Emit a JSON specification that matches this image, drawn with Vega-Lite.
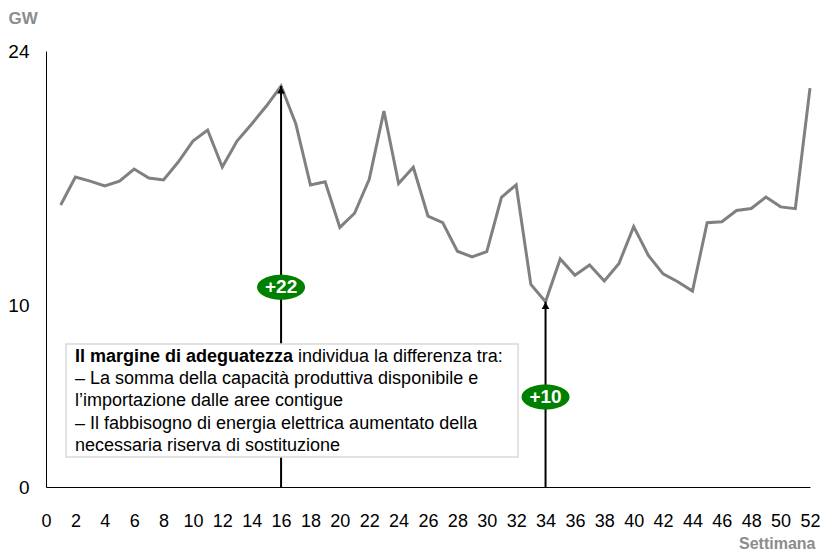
{
  "$schema": "https://vega.github.io/schema/vega-lite/v6.json",
  "width": 764,
  "height": 436,
  "autosize": {"type": "none"},
  "padding": {"left": 46, "top": 51, "right": 13, "bottom": 65},
  "background": "white",
  "config": {
    "view": {"stroke": null},
    "font": "Liberation Sans",
    "axis": {"labelOverlap": false, "labelFlush": false, "labelBound": false}
  },
  "datasets": {
    "series": [
      {"week": 1, "gw": 15.52}, {"week": 2, "gw": 17.06}, {"week": 3, "gw": 16.84}, {"week": 4, "gw": 16.57},
      {"week": 5, "gw": 16.84}, {"week": 6, "gw": 17.50}, {"week": 7, "gw": 17.01}, {"week": 8, "gw": 16.90},
      {"week": 9, "gw": 17.89}, {"week": 10, "gw": 19.04}, {"week": 11, "gw": 19.65}, {"week": 12, "gw": 17.61},
      {"week": 13, "gw": 19.04}, {"week": 14, "gw": 19.98}, {"week": 15, "gw": 20.97}, {"week": 16, "gw": 22.07},
      {"week": 17, "gw": 20.0}, {"week": 18, "gw": 16.62}, {"week": 19, "gw": 16.80}, {"week": 20, "gw": 14.29},
      {"week": 21, "gw": 15.07}, {"week": 22, "gw": 16.94}, {"week": 23, "gw": 20.70}, {"week": 24, "gw": 16.71},
      {"week": 25, "gw": 17.60}, {"week": 26, "gw": 14.91}, {"week": 27, "gw": 14.55}, {"week": 28, "gw": 12.98},
      {"week": 29, "gw": 12.66}, {"week": 30, "gw": 12.96}, {"week": 31, "gw": 15.95}, {"week": 32, "gw": 16.63},
      {"week": 33, "gw": 11.15}, {"week": 34, "gw": 10.20}, {"week": 35, "gw": 12.55}, {"week": 36, "gw": 11.66},
      {"week": 37, "gw": 12.22}, {"week": 38, "gw": 11.34}, {"week": 39, "gw": 12.31}, {"week": 40, "gw": 14.33},
      {"week": 41, "gw": 12.75}, {"week": 42, "gw": 11.73}, {"week": 43, "gw": 11.30}, {"week": 44, "gw": 10.79},
      {"week": 45, "gw": 14.55}, {"week": 46, "gw": 14.60}, {"week": 47, "gw": 15.22}, {"week": 48, "gw": 15.33},
      {"week": 49, "gw": 15.96}, {"week": 50, "gw": 15.42}, {"week": 51, "gw": 15.32}, {"week": 52, "gw": 21.96}
    ],
    "arrows": [
      {"week": 16, "from": 0, "to": 22.07, "label": "+22", "badge": 11.0},
      {"week": 34, "from": 0, "to": 10.20, "label": "+10", "badge": 4.95}
    ],
    "box": [{"x1": 1.36, "x2": 32.13, "y1": 1.65, "y2": 7.87}],
    "boldText": [{"x": 1.97, "y": 7.16, "t": "Il margine di adeguatezza"}],
    "plainText": [
      {"x": 17.15, "y": 7.16, "t": "individua la differenza tra:"},
      {"x": 1.97, "y": 5.93, "t": "– La somma della capacità produttiva disponibile e"},
      {"x": 1.97, "y": 4.71, "t": "l’importazione dalle aree contigue"},
      {"x": 1.97, "y": 3.48, "t": "– Il fabbisogno di energia elettrica aumentato della"},
      {"x": 1.97, "y": 2.26, "t": "necessaria riserva di sostituzione"}
    ]
  },
  "layer": [
    {
      "data": {"name": "series"},
      "mark": {"type": "line", "color": "#808080", "strokeWidth": 3},
      "encoding": {
        "x": {
          "field": "week", "type": "quantitative",
          "scale": {"domain": [0, 52], "nice": false, "zero": false},
          "axis": {
            "values": [0, 2, 4, 6, 8, 10, 12, 14, 16, 18, 20, 22, 24, 26, 28, 30, 32, 34, 36, 38, 40, 42, 44, 46, 48, 50, 52],
            "tickCount": 60,
            "grid": false, "ticks": false, "labelFontSize": 18, "labelColor": "#000000",
            "labelPadding": 25, "domainColor": "#000000", "domainWidth": 1,
            "labelFlush": false, "labelOverlap": false,
            "title": "Settimana", "titleFontSize": 16, "titleFontWeight": "bold", "titleColor": "#8c8c8c",
            "titleAlign": "right", "titleAnchor": "end", "titleX": 769, "titleY": 56, "titleBaseline": "middle"
          }
        },
        "y": {
          "field": "gw", "type": "quantitative",
          "scale": {"domain": [0, 24], "nice": false},
          "axis": {
            "values": [0, 10, 24], "grid": false, "ticks": false, "labelFontSize": 19, "labelColor": "#000000",
            "labelPadding": 17, "domainColor": "#000000", "domainWidth": 1, "labelFlush": false,
            "title": "GW", "titleAngle": 0, "titleFontSize": 17, "titleFontWeight": "bold", "titleColor": "#8c8c8c",
            "titleAlign": "left", "titleX": -38, "titleY": -33, "titleBaseline": "middle"
          }
        }
      }
    },
    {
      "data": {"name": "arrows"},
      "mark": {"type": "rule", "color": "#000000", "strokeWidth": 2},
      "encoding": {
        "x": {"field": "week", "type": "quantitative"},
        "y": {"field": "from", "type": "quantitative"},
        "y2": {"field": "to"}
      }
    },
    {
      "data": {"name": "arrows"},
      "mark": {"type": "point", "shape": "triangle-up", "filled": true, "color": "#000000", "size": 60, "opacity": 1, "yOffset": 4},
      "encoding": {
        "x": {"field": "week", "type": "quantitative"},
        "y": {"field": "to", "type": "quantitative"}
      }
    },
    {
      "data": {"name": "box"},
      "mark": {"type": "rect", "fill": "#ffffff", "stroke": "#d9d9d9", "strokeWidth": 1.5},
      "encoding": {
        "x": {"field": "x1", "type": "quantitative"},
        "x2": {"field": "x2"},
        "y": {"field": "y1", "type": "quantitative"},
        "y2": {"field": "y2"}
      }
    },
    {
      "data": {"name": "boldText"},
      "mark": {"type": "text", "align": "left", "baseline": "middle", "fontSize": 18, "fontWeight": "bold", "color": "#000000"},
      "encoding": {
        "x": {"field": "x", "type": "quantitative"},
        "y": {"field": "y", "type": "quantitative"},
        "text": {"field": "t"}
      }
    },
    {
      "data": {"name": "plainText"},
      "mark": {"type": "text", "align": "left", "baseline": "middle", "fontSize": 18, "color": "#000000"},
      "encoding": {
        "x": {"field": "x", "type": "quantitative"},
        "y": {"field": "y", "type": "quantitative"},
        "text": {"field": "t"}
      }
    },
    {
      "data": {"name": "arrows"},
      "mark": {"type": "point", "shape": "M-1,0A1,0.52,0,1,1,1,0A1,0.52,0,1,1,-1,0Z", "filled": true, "color": "#008000", "size": 2304, "opacity": 1},
      "encoding": {
        "x": {"field": "week", "type": "quantitative"},
        "y": {"field": "badge", "type": "quantitative"}
      }
    },
    {
      "data": {"name": "arrows"},
      "mark": {"type": "text", "align": "center", "baseline": "middle", "fontSize": 19, "fontWeight": "bold", "color": "#ffffff"},
      "encoding": {
        "x": {"field": "week", "type": "quantitative"},
        "y": {"field": "badge", "type": "quantitative"},
        "text": {"field": "label"}
      }
    }
  ]
}
